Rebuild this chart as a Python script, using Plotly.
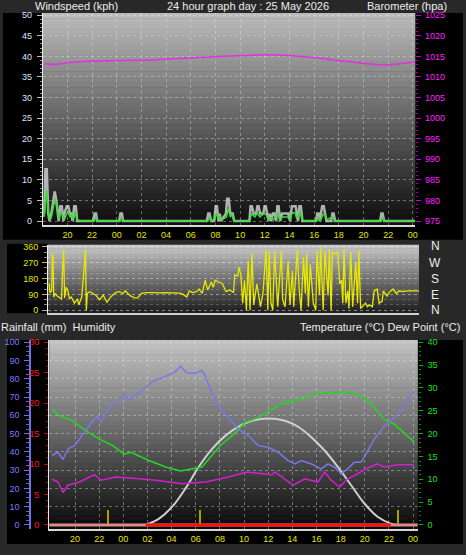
import plotly.graph_objects as go

W, H = 466, 555


def px(x):
    return x / W


def py(y):
    return 1 - y / H


# ---------------- data ----------------
hour_ticks = [2, 4, 6, 8, 10, 12, 14, 16, 18, 20, 22, 24, 26, 28, 30]
hour_labels = ["20", "22", "00", "02", "04", "06", "08", "10", "12", "14", "16", "18", "20", "22", "00"]

# wind gust (kph) - hours since 18:00
gust_t = [0.00, 0.12, 0.22, 0.33, 0.45, 0.55, 0.70, 0.85, 0.97, 1.08, 1.20, 1.30, 1.42, 1.55, 1.68, 1.75,
          1.95, 2.08, 2.20, 2.30, 2.42, 2.55, 2.68, 2.80, 4.10, 4.20, 4.32, 4.42, 6.20, 6.30, 6.42, 6.52,
          13.30, 13.42, 13.52, 13.65, 13.90, 14.02, 14.12, 14.25, 14.35, 14.45, 14.85, 14.95, 15.07, 15.20,
          15.30, 15.40, 15.52, 16.75, 16.85, 16.95, 17.10, 17.30, 17.40, 17.50, 17.62, 17.88, 17.98, 18.08,
          18.20, 18.30, 18.40, 18.50, 18.65, 18.78, 18.92, 19.02, 19.12, 19.25, 19.40, 19.90, 20.05, 20.20,
          20.50, 20.60, 20.70, 20.80, 20.92, 21.05, 22.15, 22.25, 22.35, 22.45, 22.65, 22.78, 22.90, 23.00,
          23.38, 23.48, 23.58, 23.70, 27.35, 27.45, 27.55, 27.68, 30.20]
gust_v = [3.6, 1.8, 12.6, 12.6, 1.8, 0.0, 1.8, 5.4, 7.2, 5.4, 1.8, 0.0, 3.6, 3.6, 0.0, 1.8,
          3.6, 3.6, 1.8, 1.8, 0.0, 3.6, 3.6, 0.0, 0.0, 1.8, 1.8, 0.0, 0.0, 1.8, 1.8, 0.0,
          0.0, 1.8, 1.8, 0.0, 0.0, 3.6, 3.6, 0.0, 1.8, 0.0, 1.8, 5.4, 5.4, 1.8,
          1.8, 1.8, 0.0, 0.0, 3.6, 3.6, 1.8, 1.8, 3.6, 3.6, 1.8, 1.8, 3.6, 3.6,
          1.8, 0.0, 1.8, 0.0, 1.8, 1.8, 0.0, 3.6, 3.6, 0.0, 1.8, 1.8, 0.0, 3.6,
          3.6, 1.8, 0.0, 3.6, 3.6, 0.0, 0.0, 1.8, 1.8, 0.0, 3.6, 3.6, 1.8, 0.0,
          0.0, 1.8, 1.8, 0.0, 0.0, 1.8, 1.8, 0.0, 0.0]

# average wind speed (kph)
wind_t = [0.00, 0.10, 0.20, 0.32, 0.45, 0.55, 0.70, 0.85, 1.00, 1.15, 1.30, 1.45, 1.60, 1.75, 1.90, 2.05,
          2.20, 2.35, 2.50, 2.65, 2.80, 3.00, 4.20, 4.30, 4.45, 6.30, 6.40, 6.55, 13.40, 13.50, 13.65, 13.95,
          14.10, 14.25, 14.40, 14.55, 14.90, 15.05, 15.20, 15.35, 15.50, 16.80, 16.90, 17.20, 17.40, 17.60,
          18.00, 18.20, 18.35, 18.50, 18.70, 18.85, 19.05, 19.20, 19.45, 19.85, 20.00, 20.25, 20.45, 20.60,
          20.85, 21.00, 21.15, 22.20, 22.35, 22.50, 22.70, 22.85, 23.00, 23.50, 23.65, 27.45, 27.58, 27.70,
          30.20]
wind_v = [3.0, 1.0, 4.0, 7.5, 2.5, 0.2, 1.0, 3.0, 5.5, 3.5, 0.5, 2.0, 1.5, 0.3, 1.5, 2.5,
          1.0, 1.5, 0.3, 2.2, 0.3, 0.0, 0.0, 1.0, 0.0, 0.0, 1.0, 0.0, 0.0, 1.0, 0.0, 0.5,
          2.0, 0.5, 1.0, 0.3, 1.0, 3.0, 1.0, 1.5, 0.0, 0.0, 1.8, 1.0, 2.0, 1.0,
          2.0, 1.0, 0.3, 0.8, 0.3, 1.0, 2.2, 0.3, 1.0, 1.0, 0.3, 2.0, 2.0, 0.5,
          2.5, 0.5, 0.0, 0.0, 1.0, 0.0, 1.5, 2.0, 0.3, 1.0, 0.0, 0.0, 1.0, 0.0,
          0.0]

# barometer (hPa)
baro_t = [0.16, 1.0, 2.2, 3.8, 6.2, 8.6, 10.6, 12.6, 14.6, 16.7, 17.9, 19.1, 20.7, 22.3, 23.9, 25.1,
          26.7, 28.3, 29.5, 30.2]
baro_v = [1013.2, 1013.0, 1013.5, 1013.8, 1014.0, 1014.1, 1014.4, 1014.7, 1015.0, 1015.2, 1015.4, 1015.3,
          1015.0, 1014.6, 1014.0, 1013.6, 1013.1, 1013.0, 1013.4, 1013.6]

# wind direction (degrees)
dir_t = [0.10, 0.16, 0.30, 0.36, 0.41, 0.47, 0.60, 0.75, 0.95, 1.10, 1.20, 1.28, 1.35, 1.48, 1.62, 1.75,
         1.90, 2.15, 2.40, 2.50, 2.75, 3.05, 3.12, 3.20, 3.40, 3.60, 3.90, 4.20, 4.50, 4.80, 5.10, 5.50,
         5.80, 6.10, 6.30, 6.50, 6.75, 7.05, 7.30, 7.60, 8.00, 8.50, 9.00, 9.60, 10.20, 10.70, 11.00, 11.30,
         11.50, 11.75, 12.10, 12.30, 12.55, 12.80, 13.00, 13.30, 13.45, 13.60, 13.90, 14.20, 14.50, 14.80,
         15.10, 15.20, 15.45, 15.55, 15.70, 15.85, 16.00, 16.15, 16.30, 16.45, 16.60, 16.75, 17.00, 17.30,
         17.50, 17.75, 17.90, 18.00, 18.15, 18.30, 18.45, 18.70, 19.00, 19.10, 19.30, 19.55, 19.70, 19.90,
         20.00, 20.30, 20.45, 20.60, 20.80, 20.95, 21.05, 21.20, 21.35, 21.60, 21.80, 21.90, 22.10, 22.20,
         22.40, 22.55, 22.80, 22.90, 23.05, 23.15, 23.40, 23.60, 23.75, 23.90, 24.00, 24.10, 24.25, 24.40,
         24.50, 24.65, 24.80, 25.05, 25.20, 25.30, 25.45, 25.70, 25.85, 26.00, 26.15, 26.40, 26.55, 26.80,
         26.95, 27.20, 27.30, 27.60, 27.75, 28.10, 28.35, 28.60, 28.90, 29.20, 30.20]
dir_v = [150, 100, 110, 320, 300, 75, 95, 80, 70, 65, 250, 340, 70, 130, 110, 65,
         75, 40, 65, 30, 75, 345, 0, 95, 105, 95, 85, 60, 85, 45, 75, 100,
         105, 95, 110, 95, 80, 70, 70, 95, 100, 100, 98, 100, 97, 97, 90, 75,
         110, 100, 105, 120, 95, 170, 115, 160, 130, 170, 160, 150, 105, 115,
         100, 200, 195, 245, 200, 40, 170, 0, 280, 0, 320, 30, 150, 20,
         95, 345, 0, 335, 40, 0, 335, 20, 335, 60, 20, 280, 30, 225,
         20, 345, 115, 0, 300, 95, 320, 20, 260, 40, 0, 335, 85, 355,
         0, 335, 85, 345, 0, 330, 320, 330, 150, 170, 40, 345, 40, 110,
         10, 330, 20, 270, 40, 340, 10, 30, 40, 20, 30, 20, 110, 120,
         40, 50, 110, 80, 100, 120, 95, 110, 105, 110, 110]

# temperature (C)
temp_t = [0.09, 0.72, 1.82, 2.92, 4.02, 5.11, 6.07, 6.62, 8.13, 9.50, 10.74, 11.70, 12.52, 14.03, 14.99,
          16.09, 17.18, 18.28, 19.38, 20.75, 21.85, 22.67, 23.77, 25.14, 25.97, 26.79, 27.61, 28.43, 29.26,
          30.08]
temp_v = [25.3, 23.9, 22.8, 20.6, 18.8, 17.4, 15.5, 15.9, 14.1, 12.7, 11.8, 12.3, 12.7, 17.4, 19.5,
          22.4, 23.5, 25.3, 26.8, 27.5, 28.6, 28.9, 29.1, 28.9, 27.8, 25.7, 23.1, 22.1, 20.2,
          18.2]

# humidity (%)
hum_t = [0.09, 0.59, 1.00, 1.41, 1.96, 2.64, 3.47, 3.88, 4.15, 4.84, 5.66, 6.07, 6.49, 7.31, 8.41, 9.50,
         10.33, 10.74, 11.29, 11.97, 12.52, 12.80, 13.34, 14.03, 14.72, 15.54, 16.36, 17.18, 18.01, 18.83,
         19.65, 20.20, 20.75, 21.57, 22.40, 22.95, 23.50, 24.05, 24.59, 25.14, 25.69, 26.10, 26.79, 27.61,
         28.43, 29.26, 30.08]
hum_v = [38.0, 39.8, 35.8, 41.6, 43.4, 49.7, 56.9, 59.7, 56.0, 64.2, 67.8, 71.4, 68.7, 72.3, 78.6, 81.3,
         84.0, 86.8, 83.2, 83.2, 84.6, 81.3, 72.3, 63.3, 58.7, 52.4, 48.8, 43.4, 42.5, 39.8,
         35.2, 33.4, 35.2, 33.4, 30.7, 33.4, 31.6, 28.0, 30.7, 34.3, 34.3, 38.9, 47.0, 54.2,
         58.7, 65.0, 73.2]

# dew point (C)
dew_t = [0.09, 0.59, 1.00, 1.41, 2.37, 3.60, 4.15, 5.39, 7.31, 8.68, 10.87, 12.80, 14.72, 16.23, 18.28,
         18.56, 20.07, 21.03, 22.12, 22.67, 23.22, 23.91, 24.59, 25.14, 26.10, 27.06, 27.61, 28.71, 30.08]
dew_v = [10.0, 9.4, 7.1, 8.7, 9.4, 11.0, 9.8, 10.5, 10.1, 9.8, 9.0, 9.4, 10.5, 11.6, 11.0,
         11.6, 8.7, 10.1, 9.4, 11.6, 9.8, 8.3, 10.1, 10.8, 12.3, 13.4, 12.7, 13.2, 13.2]

# solar curve (plotted on temperature scale)
sun_t = [7.86, 8.96, 10.05, 11.15, 12.24, 13.34, 14.44, 15.54, 16.63, 18.00, 19.38, 20.48, 21.57, 22.67,
         23.77, 24.87, 25.97, 27.06, 28.16, 28.71]
sun_v = [0.0, 1.4, 4.0, 8.0, 12.7, 16.6, 19.5, 21.5, 22.8, 23.3, 22.8, 21.5, 19.2, 16.3,
         12.7, 8.7, 4.7, 1.8, 0.3, 0.0]

# rainfall (mm)
rain_t = [-0.14, 30.39]
rain_v = [0.0, 0.0]
day_t = [7.86, 28.16]
day_v = [0.0, 0.0]
rainbar_t = [4.76, 12.38, 28.79]
rainbar_v = [2.4, 2.4, 2.4]

# ---------------- figure ----------------
FONT = "Liberation Sans"
fig = go.Figure()

fig.add_trace(go.Scatter(x=gust_t, y=gust_v, xaxis="x", yaxis="y", mode="lines",
                         line=dict(color="rgba(215,215,215,0.8)", width=2.5), hoverinfo="skip"))
fig.add_trace(go.Scatter(x=wind_t, y=wind_v, xaxis="x", yaxis="y", mode="lines",
                         line=dict(color="#33e033", width=1.5), hoverinfo="skip"))
fig.add_trace(go.Scatter(x=baro_t, y=baro_v, xaxis="x", yaxis="y2", mode="lines",
                         line=dict(color="#e030e0", width=1.5, shape="spline"), hoverinfo="skip"))

fig.add_trace(go.Scatter(x=dir_t, y=dir_v, xaxis="x2", yaxis="y3", mode="lines",
                         line=dict(color="#e8e800", width=1.3), hoverinfo="skip"))

fig.add_trace(go.Scatter(x=sun_t, y=sun_v, xaxis="x3", yaxis="y4", mode="lines",
                         line=dict(color="#cfcfcf", width=2, shape="spline"), hoverinfo="skip"))
fig.add_trace(go.Scatter(x=temp_t, y=temp_v, xaxis="x3", yaxis="y4", mode="lines",
                         line=dict(color="#22d822", width=1.5), hoverinfo="skip"))
fig.add_trace(go.Scatter(x=dew_t, y=dew_v, xaxis="x3", yaxis="y4", mode="lines",
                         line=dict(color="#d020d0", width=1.5), hoverinfo="skip"))
fig.add_trace(go.Scatter(x=hum_t, y=hum_v, xaxis="x3", yaxis="y5", mode="lines",
                         line=dict(color="#7878e8", width=1.5), hoverinfo="skip"))
fig.add_trace(go.Bar(x=rainbar_t, y=rainbar_v, xaxis="x3", yaxis="y6", width=0.14,
                     marker=dict(color="#a8a000", line=dict(width=0)), hoverinfo="skip"))
fig.add_trace(go.Scatter(x=rain_t, y=rain_v, xaxis="x3", yaxis="y6", mode="lines",
                         line=dict(color="#e08a8a", width=3), hoverinfo="skip"))
fig.add_trace(go.Scatter(x=day_t, y=day_v, xaxis="x3", yaxis="y6", mode="lines",
                         line=dict(color="#ff1010", width=3), hoverinfo="skip"))

# ---------------- backgrounds ----------------
shapes = []


def rect(x0, y0, x1, y1, color):
    shapes.append(dict(type="rect", xref="paper", yref="paper", x0=px(x0), x1=px(x1),
                       y0=py(y1), y1=py(y0), fillcolor=color, line=dict(width=0), layer="below"))


rect(3, 10, 466, 239, "#000000")
rect(7, 243, 48, 313, "#000000")
rect(7, 340, 466, 546, "#000000")


def gradient(x0, y0, x1, y1, top, bot, n=40):
    h = (y1 - y0) / n
    for i in range(n):
        f = (i + 0.5) / n
        c = int(round(top + (bot - top) * f))
        rect(x0, y0 + i * h, x1, y0 + (i + 1) * h + 0.6, "rgb(%d,%d,%d)" % (c, c, c))


gradient(43, 10, 418, 224, 188, 12)
gradient(48.3, 244, 421.7, 313, 200, 28)
gradient(49.5, 340, 420.5, 531, 196, 8)

GRID = "rgba(235,235,235,0.38)"
tickfont_x = dict(family=FONT, size=9, color="#e6e600")

xcommon = dict(tickvals=hour_ticks, ticktext=hour_labels, tickfont=tickfont_x, ticks="",
               showgrid=True, gridcolor=GRID, griddash="dot", gridwidth=1, zeroline=False,
               showline=True, linecolor="#d8d8d8", linewidth=2, fixedrange=True)

layout = dict(
    width=W, height=H, margin=dict(l=0, r=0, t=0, b=0),
    paper_bgcolor="#282828", plot_bgcolor="rgba(0,0,0,0)",
    showlegend=False, bargap=0, shapes=shapes,
    xaxis=dict(domain=[px(43), px(418)], range=[0, 30.2], anchor="y", **xcommon),
    yaxis=dict(domain=[py(224), py(10)], range=[-0.96, 50.55], anchor="x", tick0=0, dtick=5,
               ticks="outside", ticklen=5, tickcolor="#bdbdbd", ticklabelstandoff=3,
               minor=dict(dtick=1, tick0=0, ticks="outside", ticklen=2, tickcolor="#9a9a9a"),
               tickfont=dict(family=FONT, size=9, color="#dce6ff"),
               showgrid=True, gridcolor=GRID, griddash="dot", zeroline=False,
               showline=True, linecolor="#eeeeee", linewidth=1),
    yaxis2=dict(overlaying="y", side="right", anchor="x", range=[974.04, 1025.55], tick0=975, dtick=5,
                ticks="outside", ticklen=5, tickcolor="#c800c8", ticklabelstandoff=2,
                minor=dict(dtick=1, tick0=975, ticks="outside", ticklen=2, tickcolor="#a000a0"),
                tickfont=dict(family=FONT, size=9, color="#ff22ff"), showgrid=False, zeroline=False),
    xaxis2=dict(domain=[px(48.3), px(421.7)], range=[0, 30.2], anchor="y3", showticklabels=False,
                ticks="", showgrid=False, zeroline=False, showline=True, linecolor="#cfcfcf",
                linewidth=2, fixedrange=True),
    yaxis3=dict(domain=[py(313), py(244)], range=[-16.9, 371.25], anchor="x2",
                tickvals=[0, 90, 180, 270, 360], ticks="outside", ticklen=5, tickcolor="#b8b870",
                ticklabelstandoff=2,
                minor=dict(dtick=30, tick0=0, ticks="outside", ticklen=3, tickcolor="#8a8a60",
                           showgrid=True, gridcolor="rgba(235,235,235,0.22)", griddash="dot"),
                tickfont=dict(family=FONT, size=9, color="#e6e600"),
                showgrid=True, gridcolor=GRID, griddash="dot", zeroline=False,
                showline=True, linecolor="#f2f2f2", linewidth=1),
    xaxis3=dict(domain=[px(49.5), px(420.5)], range=[-0.14, 30.39], anchor="y4", **xcommon),
    yaxis4=dict(domain=[py(531), py(340)], range=[-0.93, 40.5], anchor="x3", side="right",
                tick0=0, dtick=5, ticks="outside", ticklen=4, tickcolor="#00c000", ticklabelstandoff=3,
                minor=dict(dtick=1, tick0=0, ticks="outside", ticklen=2, tickcolor="#009000"),
                tickfont=dict(family=FONT, size=9, color="#18e018"), showgrid=False, zeroline=False),
    yaxis5=dict(overlaying="y4", side="left", anchor="free", position=px(30.5), range=[-2.33, 101.25],
                tick0=0, dtick=10, ticks="outside", ticklen=5, tickcolor="#7070e8", ticklabelstandoff=3,
                minor=dict(dtick=2.5, tick0=0, ticks="outside", ticklen=3, tickcolor="#6060c8"),
                tickfont=dict(family=FONT, size=9, color="#7c7cff"),
                showgrid=True, gridcolor=GRID, griddash="dot", zeroline=False,
                showline=True, linecolor="#7070e8", linewidth=2),
    yaxis6=dict(overlaying="y4", side="left", anchor="x3", range=[-0.70, 30.37], tick0=0, dtick=5,
                ticks="outside", ticklen=4, tickcolor="#d00000", ticklabelstandoff=3,
                minor=dict(dtick=1, tick0=0, ticks="outside", ticklen=2, tickcolor="#a00000"),
                tickfont=dict(family=FONT, size=9, color="#ff1a1a"), showgrid=False, zeroline=False,
                showline=True, linecolor="#e8e8e8", linewidth=1),
)
fig.update_layout(**layout)

TXT = "#ececec"


def label(text, x, y, anchor="left", size=11):
    fig.add_annotation(text=text, x=px(x), y=py(y), xref="paper", yref="paper", showarrow=False,
                       xanchor=anchor, yanchor="middle", borderpad=0,
                       font=dict(family=FONT, size=size, color=TXT))


label("Windspeed (kph)", 34, 3)
label("24 hour graph day : 25 May 2026", 250, 3, anchor="center")
label("Barometer (hpa)", 368, 3)
label("Rainfall (mm)  Humidity", 0, 327)
label("Temperature (°C) Dew Point (°C)", 464, 327, anchor="right")
for t, yy in zip(["N", "W", "S", "E", "N"], [245, 262, 279, 295, 310]):
    label(t, 438, yy, anchor="center", size=12)

fig.write_html("out.html", config={"displayModeBar": False},
               post_script="document.body.style.margin='0';")
